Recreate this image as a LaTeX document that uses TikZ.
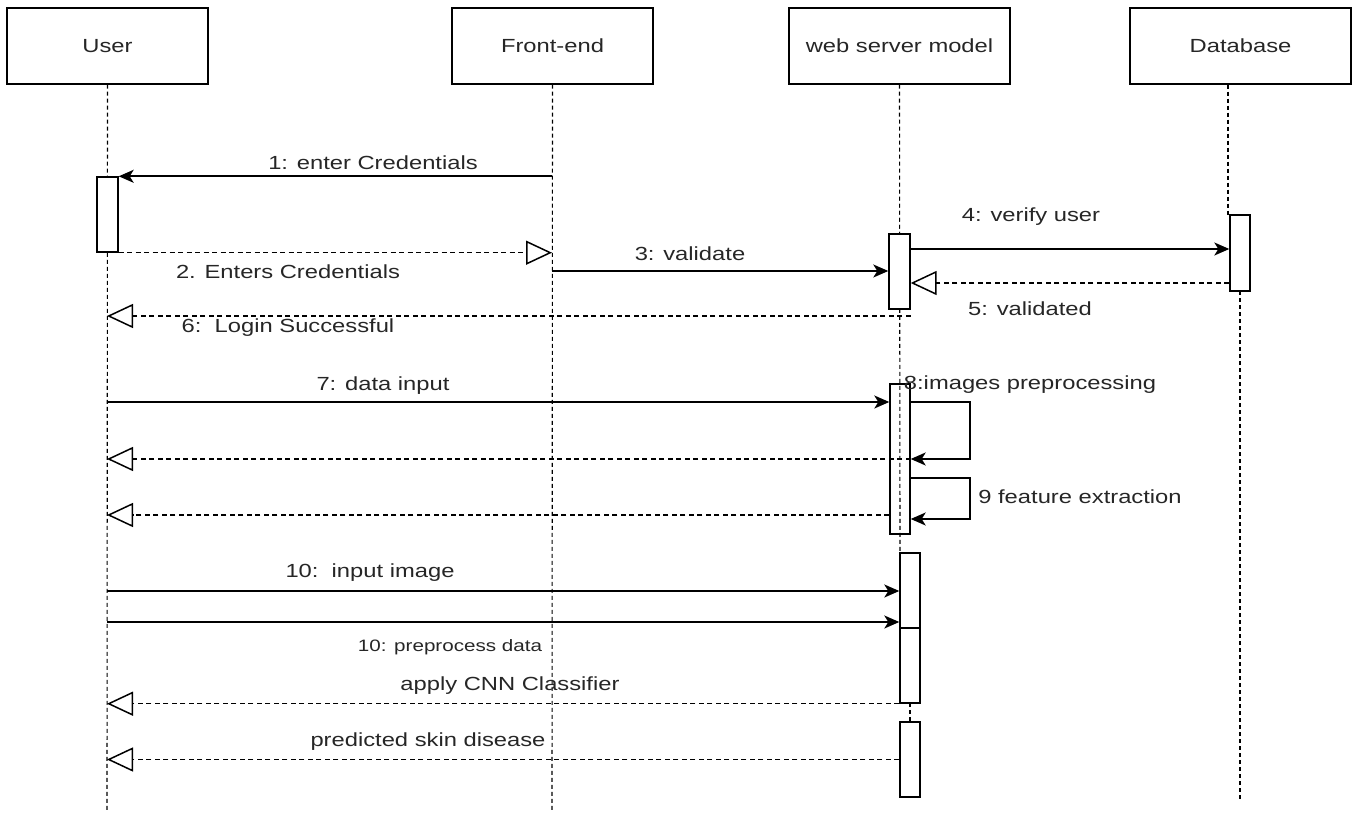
\documentclass[tikz,border=0pt]{standalone}
\usepackage{fontspec}
\newfontfamily\labfont{Liberation Sans}[FakeStretch=1.25]
\usetikzlibrary{arrows.meta,calc}
\begin{document}
\begin{tikzpicture}[x=1pt,y=-1pt,
  lbl/.style={font=\labfont\fontsize{19}{22}\selectfont, text=black!85, inner sep=0pt},
  small/.style={font=\labfont\fontsize{16.5}{20}\selectfont, text=black!85, inner sep=0pt},
  hdr/.style={draw=black, line width=1.5pt, fill=white, minimum height=76pt, inner sep=0pt,
              font=\labfont\fontsize{19}{22}\selectfont, text=black!85},
  act/.style={draw=black, line width=1.4pt, fill=white, minimum width=21pt, inner sep=0pt},
  actopen/.style={draw=black, line width=1.4pt, minimum width=21pt, inner sep=0pt},
  life/.style={line width=1.1pt, dash pattern=on 4pt off 3pt},
  msg/.style={line width=1.6pt, -{Stealth[length=15pt,width=13pt,inset=4pt]}},
  ret/.style={line width=1.5pt, dash pattern=on 5pt off 3.5pt, -{Triangle[open,length=26pt,width=24pt]}}
]
\useasboundingbox (0,0) rectangle (1354,813);

% lifeline x positions
\coordinate (uL) at (107,0);
\coordinate (fL) at (552,0);
\coordinate (wL) at (900,0);
\coordinate (wL2) at (910,0);
\coordinate (dL) at (1228,0);
\coordinate (dL2) at (1240,0);

% header boxes
\node[hdr, minimum width=201pt] (user) at (107.5,46) {User};
\node[hdr, minimum width=201pt] (fe) at (552.5,46) {Front-end};
\node[hdr, minimum width=221pt] (web) at (899.5,46) {web server model};
\node[hdr, minimum width=221pt] (db) at (1240.5,46) {Database};

% lifelines
\draw[life] (user.south) -- (uL |- 0,810);
\draw[life] (fe.south) -- (fL |- 0,810);
\draw[life] (web.south) -- (wL |- 0,553);
\draw[life] (wL2 |- 0,703) -- (wL2 |- 0,722);
\draw[life] (dL |- db.south) -- (dL |- 0,215);
\draw[life] (dL2 |- 0,291) -- (dL2 |- 0,800);

% activations
\node[act, minimum height=75pt] (uA) at (107.5,214.5) {};
\node[act, minimum height=75pt] (w1) at (899.5,271.5) {};
\node[act, minimum width=20pt, minimum height=76pt] (d1) at (1240,253) {};
\node[actopen, minimum width=20pt, minimum height=150pt] (w2) at (900,459) {};
\node[act, minimum width=20pt, minimum height=75pt] (w3) at (910,590.5) {};
\node[act, minimum width=20pt, minimum height=75pt] (w3b) at (910,665.5) {};
\node[act, minimum width=20pt, minimum height=75pt] (w4) at (910,759.5) {};

% messages
\draw[msg] (fL |- uA.north) -- (uA.north east);
\node[lbl] (l1) at (373,163) {1: enter Credentials};

\draw[ret] (uA.south east) -- (fL |- uA.south);
\node[lbl] (l2) at (288,272) {2. Enters Credentials};

\draw[msg] (fL |- 0,271) -- (w1.west |- 0,271);
\node[lbl] (l3) at (690,254) {3: validate};

\draw[msg] (w1.east |- 0,249) -- (d1.west |- 0,249);
\node[lbl] (l4) at (1031,217) {4: verify user};

\draw[ret] (d1.west |- 0,283) -- (w1.east |- 0,283);
\node[lbl] (l5) at (1030,309) {5: validated};

\draw[ret] (w1.east |- 0,316) -- (uL |- 0,316);
\node[lbl] (l6) at (288,328) {6:\ \ Login Successful};

\draw[msg] (uL |- 0,402) -- (w2.west |- 0,402);
\node[lbl] (l7) at (383,386) {7: data input};

\draw[msg] (w2.east |- 0,402) -- (970,402) |- (w2.east |- 0,459);
\node[lbl] (l8) at (1030,385) {8:images preprocessing};
\draw[ret] (w2.east |- 0,459) -- (uL |- 0,459);

\draw[msg] (w2.east |- 0,478) -- (970,478) |- (w2.east |- 0,519);
\node[lbl] (l9) at (1080,497) {9 feature extraction};
\draw[ret] (w2.west |- 0,515) -- (uL |- 0,515);

\draw[msg] (uL |- 0,591) -- (w3.west |- 0,591);
\node[lbl] (l10) at (370,573) {10:\ \ input image};

\draw[msg] (uL |- 0,622) -- (w3.west |- 0,622);
\node[small] (l11) at (450,647) {10: preprocess data};

\draw[ret] (w3b.south west) -- (uL |- w3b.south);
\node[lbl] (l12) at (510,686) {apply CNN Classifier};

\draw[ret] (w4.west) -- (uL |- w4.west);
\node[lbl] (l13) at (428,742) {predicted skin disease};
\end{tikzpicture}
\end{document}
